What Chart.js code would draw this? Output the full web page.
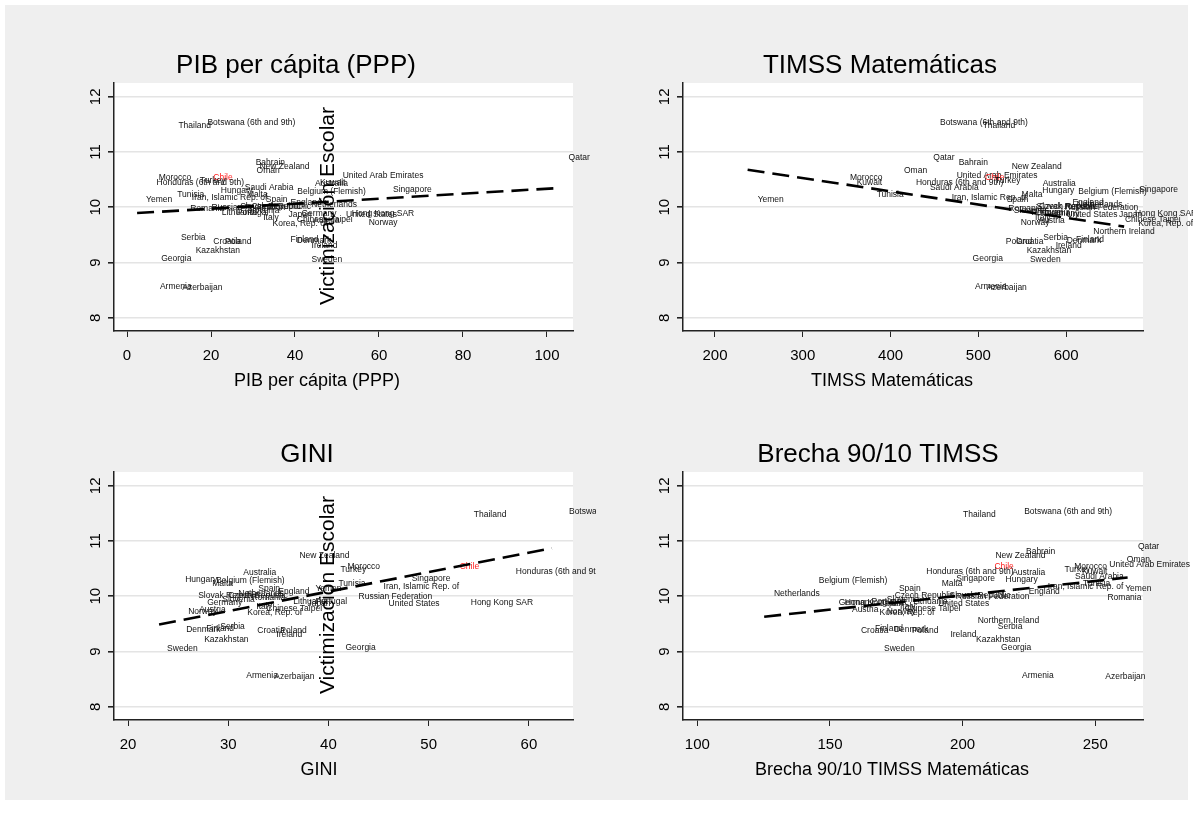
<!DOCTYPE html>
<html><head><meta charset="utf-8">
<script src="https://cdn.jsdelivr.net/npm/chart.js@4.4.0/dist/chart.umd.min.js"></script>
<style>
html,body{margin:0;padding:0;background:#fff;width:1193px;height:819px;overflow:hidden}
#bg{position:absolute;left:5px;top:5px;width:1183px;height:795px;background:#efefef}
canvas{position:absolute;display:block}
</style></head><body>
<div id="bg"></div>
<canvas id="c1" width="596" height="400" style="left:0;top:0"></canvas>
<canvas id="c2" width="597" height="400" style="left:596px;top:0"></canvas>
<canvas id="c3" width="596" height="430" style="left:0;top:389px"></canvas>
<canvas id="c4" width="597" height="430" style="left:596px;top:389px"></canvas>
<script>
// ---------- data ----------
const countries = ["Thailand","Botswana (6th and 9th)","Qatar","Bahrain","New Zealand","Oman","United Arab Emirates","Chile","Morocco","Turkey","Kuwait","Honduras (6th and 9th)","Australia","Saudi Arabia","Singapore","Hungary","Belgium (Flemish)","Malta","Tunisia","Iran, Islamic Rep. of","Yemen","Spain","England","Netherlands","Czech Republic","Slovak Republic","Russian Federation","Romania","Slovenia","Lithuania","Portugal","Germany","Hong Kong SAR","United States","Japan","Italy","Chinese Taipei","Austria","Norway","Korea, Rep. of","Northern Ireland","Serbia","Finland","Denmark","Croatia","Poland","Ireland","Kazakhstan","Georgia","Sweden","Armenia","Azerbaijan"];
const victim = [11.47,11.53,10.90,10.81,10.73,10.66,10.58,10.54,10.53,10.49,10.45,10.45,10.43,10.36,10.31,10.30,10.29,10.23,10.22,10.17,10.14,10.14,10.09,10.04,10.02,10.01,10.00,9.97,9.94,9.91,9.90,9.89,9.88,9.87,9.86,9.82,9.77,9.75,9.72,9.70,9.56,9.45,9.42,9.39,9.37,9.38,9.30,9.21,9.07,9.05,8.57,8.55];
const pib    = [10.1,17.0,103.0,28.5,29.4,28.7,49.2,18.4,5.4,15.2,43.8,4.9,42.6,25.9,61.2,20.2,38.4,26.4,9.8,13.3,2.4,30.9,36.8,41.7,27.5,24.8,18.0,12.9,26.4,20.4,24.0,39.4,51.4,50.0,36.3,30.3,38.3,42.2,55.4,32.5,null,10.7,36.8,38.3,18.4,21.2,41.8,14.2,6.0,41.8,5.7,11.0];
const timss  = [494.6,446,438.4,467.3,527.7,405,465,497.3,343.5,508.6,351.1,418.7,563,434.6,673,562.5,603.5,539,373.9,459.3,238.4,522,597,601.6,558.8,556,588,523.8,530,555,550,565,668,590,650,554.2,656.7,558,538,671.9,620.6,563.7,601,590.3,532.6,521,577.8,544.8,483.2,548.5,485.9,499.2];
const gini   = [53.6,63.1,null,null,36.2,null,null,52.2,41.0,40.3,null,57.8,30.6,null,47.4,24.8,27.9,27.5,40.1,44.6,37.8,32.1,34.1,30.1,29.1,26.1,42.1,31.4,28.5,35.6,37.8,27.0,53.3,45.1,37.0,31.9,32.9,26.2,25.1,31.0,null,28.3,26.9,24.9,32.0,34.3,33.9,26.7,40.8,23.0,30.9,33.7];
const brecha = [196.8,219.8,262.7,220.5,209,258.5,251.9,208.6,238.7,235,241.6,182.9,215.3,239,194.2,212.8,142.4,188.7,242,228.7,257.9,172.6,221.5,125.5,171,191.7,194,251.2,168,178,162.3,149.9,152.2,187.4,165.5,173,174.8,154.9,168,165.3,202.3,209.9,163.6,170.7,158.3,177.5,192,201.7,211.1,167,219,250.4];

// fitted-line endpoints: [x0, y0, x1, y1]
const fitPib    = [2.4, 9.895, 103.1, 10.35];
const fitTimss  = [237.2, 10.68, 666, 9.65];
const fitGini   = [23.1, 9.49, 62.3, 10.87];
const fitBrecha = [125.2, 9.63, 262.2, 10.34];

const yTicks = [8,9,10,11,12];
const xTicksPib = [0,20,40,60,80,100];
const xTicksTimss = [200,300,400,500,600];
const xTicksGini = [20,30,40,50,60];
const xTicksBrecha = [100,150,200,250];

const titles = ["PIB per cápita (PPP)","TIMSS Matemáticas","GINI","Brecha 90/10 TIMSS"];
const xTitles = ["PIB per cápita (PPP)","TIMSS Matemáticas","GINI","Brecha 90/10 TIMSS Matemáticas"];
const yTitle = "Victimización Escolar";

// ---------- drawing ----------
const FONT = '"Liberation Sans", Arial, sans-serif';

const panelPlugin = {
  id: 'panel',
  beforeDraw(chart) {
    const ctx = chart.ctx, ca = chart.chartArea;
    ctx.save();
    ctx.fillStyle = '#ffffff';
    ctx.fillRect(ca.left, ca.top, ca.right - ca.left, ca.bottom - ca.top);
    ctx.restore();
  },
  beforeDatasetsDraw(chart) {
    const ctx = chart.ctx, xs = chart.scales.x, ys = chart.scales.y;
    ctx.save();
    ctx.font = '8.5px ' + FONT;
    ctx.textBaseline = 'middle';
    ctx.textAlign = 'left';
    chart.data.datasets[0].data.forEach(p => {
      ctx.fillStyle = p.label === 'Chile' ? '#ff1a1a' : '#111';
      ctx.fillText(p.label, xs.getPixelForValue(p.x) + 9, ys.getPixelForValue(p.y));
    });
    ctx.restore();
  },
  afterDraw(chart) {
    const o = chart.options.plugins.panel;
    const ctx = chart.ctx, ca = chart.chartArea, ys = chart.scales.y;
    ctx.save();
    ctx.fillStyle = '#000';
    ctx.font = '26px ' + FONT;
    ctx.textAlign = 'center';
    ctx.textBaseline = 'alphabetic';
    ctx.fillText(o.title, o.titleX, 73);
    ctx.font = '18px ' + FONT;
    ctx.fillText(o.xTitle, o.xTitleX, ca.bottom + 55);
    ctx.font = '15px ' + FONT;
    ctx.textBaseline = 'middle';
    ys.ticks.forEach(t => {
      const py = ys.getPixelForValue(t.value);
      ctx.save();
      ctx.translate(ca.left - 18, py);
      ctx.rotate(-Math.PI / 2);
      ctx.fillText(String(t.value), 0, 0);
      ctx.restore();
    });
    if (o.yTitle) {
      ctx.font = '21px ' + FONT;
      ctx.save();
      ctx.translate(328, (ca.top + ca.bottom) / 2 - 1);
      ctx.rotate(-Math.PI / 2);
      ctx.textAlign = 'center';
      ctx.fillText(o.yTitle, 0, 0);
      ctx.restore();
    }
    ctx.restore();
  }
};

function makeChart(id, xs, fit, xTicks, xmin, xmax, cfg) {
  const pts = [];
  countries.forEach((c, i) => { if (xs[i] !== null) pts.push({x: xs[i], y: victim[i], label: c}); });
  return new Chart(document.getElementById(id), {
    type: 'scatter',
    data: { datasets: [
      { data: pts, pointRadius: 0, pointHoverRadius: 0 },
      { type: 'line', data: [{x: fit[0], y: fit[1]}, {x: fit[2], y: fit[3]}],
        borderColor: '#000', borderWidth: 2.6, borderDash: [17, 8], pointRadius: 0, fill: false }
    ]},
    options: {
      responsive: false, animation: false, events: [],
      layout: { padding: cfg.pad },
      plugins: { legend: {display: false}, tooltip: {enabled: false},
        panel: { title: cfg.title, xTitle: cfg.xTitle, titleX: cfg.titleX, xTitleX: cfg.xTitleX, yTitle: cfg.yTitle } },
      scales: {
        x: { type: 'linear', min: xmin, max: xmax,
          afterBuildTicks: s => { s.ticks = xTicks.map(v => ({value: v})); },
          afterFit: s => { s.height = 50; },
          grid: { drawOnChartArea: false, drawTicks: true, tickLength: 6, tickColor: '#222', color: '#222' },
          border: { display: true, color: '#222', width: 1.5 },
          ticks: { color: '#000', font: { family: FONT, size: 15 }, padding: 10, maxRotation: 0, autoSkip: false }
        },
        y: { type: 'linear', min: 7.76, max: 12.25,
          afterBuildTicks: s => { s.ticks = yTicks.map(v => ({value: v})); },
          afterFit: s => { s.width = 30; },
          grid: { color: '#e4e4e4', lineWidth: 1.6, drawTicks: true, tickLength: 6, tickColor: '#222' },
          border: { display: true, color: '#222', width: 1.5 },
          ticks: { display: false }
        }
      }
    },
    plugins: [panelPlugin]
  });
}

makeChart('c1', pib, fitPib, xTicksPib, -3.1, 106.2,
  { pad: {left: 84, right: 23, top: 83, bottom: 19}, title: titles[0], xTitle: xTitles[0], titleX: 296, xTitleX: 317, yTitle: yTitle });
makeChart('c2', timss, fitTimss, xTicksTimss, 163.6, 687.5,
  { pad: {left: 57, right: 50, top: 83, bottom: 19}, title: titles[1], xTitle: xTitles[1], titleX: 284, xTitleX: 296, yTitle: null });
makeChart('c3', gini, fitGini, xTicksGini, 18.6, 64.4,
  { pad: {left: 84, right: 23, top: 83, bottom: 49}, title: titles[2], xTitle: xTitles[2], titleX: 307, xTitleX: 319, yTitle: yTitle });
makeChart('c4', brecha, fitBrecha, xTicksBrecha, 94.6, 268,
  { pad: {left: 57, right: 50, top: 83, bottom: 49}, title: titles[3], xTitle: xTitles[3], titleX: 282, xTitleX: 296, yTitle: null });
</script>
</body></html>
